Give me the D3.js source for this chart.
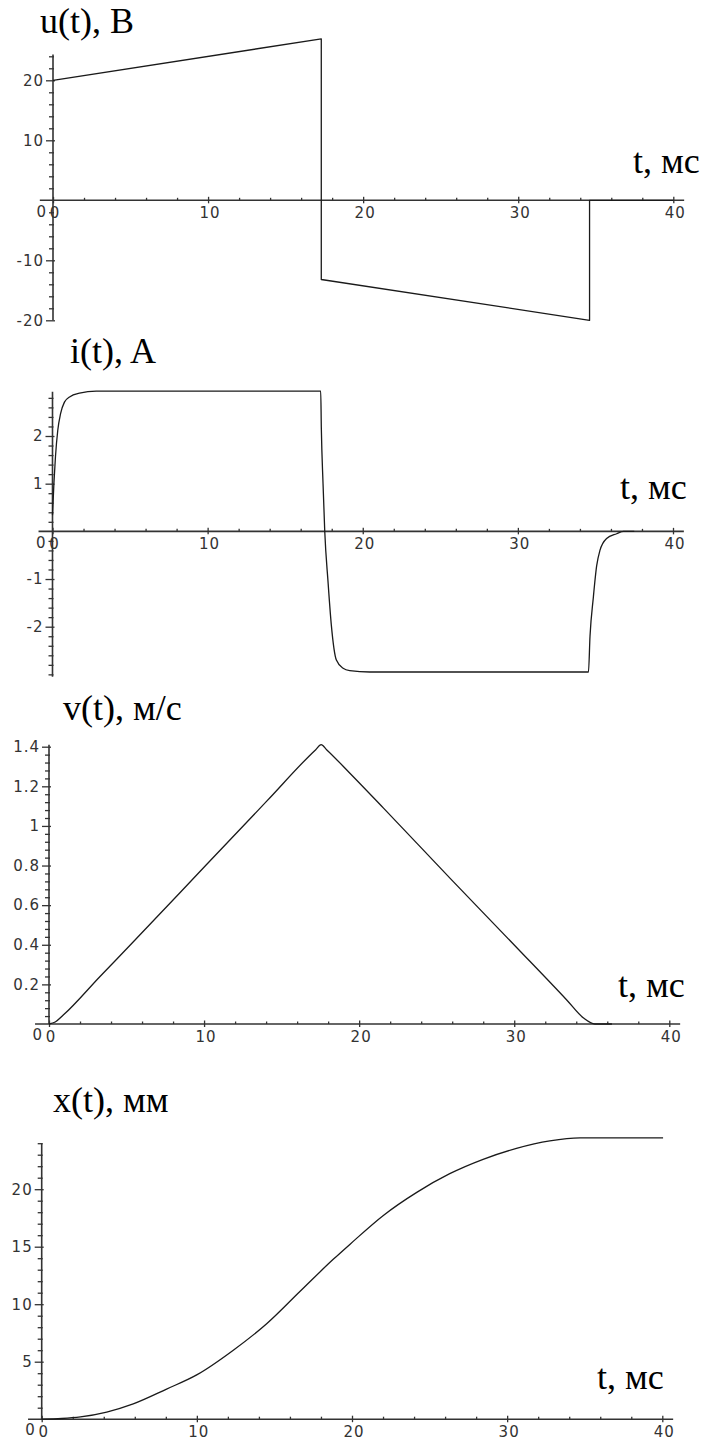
<!DOCTYPE html>
<html>
<head>
<meta charset="utf-8">
<script src="https://cdn.jsdelivr.net/npm/d3@7"></script>
<style>
  html, body { margin: 0; padding: 0; background: #fff; }
  svg { display: block; }
  .tick text { font-family: "DejaVu Sans", sans-serif; font-size: 15px; fill: #333; letter-spacing: 1px; }
  .ttl { font-family: "Liberation Serif", "Times New Roman", serif; font-size: 36px; fill: #000; }
</style>
</head>
<body>
<script>
// ---------- data ----------
const xTickValues = [0, 10, 20, 30, 40];

// u(t), В
const uTime  = [0, 17.3, 17.3, 34.6, 34.6, 40];
const uValue = [20, 26.9, -13.2, -20.0, 0, 0];
const uTicks = [-20, -10, 0, 10, 20];

// i(t), A
const iTime  = [0, 0.09, 0.19, 0.34, 0.52, 0.77, 1.1, 1.74, 2.82, 17.29, 17.33, 17.44, 17.55, 17.76, 17.97, 18.3, 18.73, 19.16, 20.45, 34.55, 34.65, 34.86, 35.08, 35.29, 35.72, 36.37, 36.8, 37.5];
const iValue = [0.34, 1.0, 1.56, 2.12, 2.47, 2.71, 2.82, 2.9, 2.94, 2.94, 2.16, 1.0, 0.0, -1.05, -1.95, -2.7, -2.87, -2.92, -2.95, -2.95, -2.2, -1.4, -0.72, -0.4, -0.15, -0.05, 0, 0];
const iTicks = [-2, -1, 0, 1, 2];

// v(t), м/с
const vTime  = [0, 0.4, 0.92, 3.29, 5.44, 10.1, 14.04, 17.2, 17.55, 17.9, 19.42, 21.57, 25.87, 30.17, 33.4, 34.47, 35.2, 36.3];
const vValue = [0, 0.01, 0.045, 0.24, 0.415, 0.8, 1.125, 1.385, 1.41, 1.385, 1.265, 1.09, 0.735, 0.385, 0.12, 0.03, 0, 0];
const vTicks = [0, 0.2, 0.4, 0.6, 0.8, 1, 1.2, 1.4];

// x(t), мм
const xTime  = [0, 1.29, 2.5, 4.19, 5.9, 8.05, 9.99, 12.35, 14.5, 16.64, 18.79, 19.86, 22.0, 24.2, 26.3, 28.45, 30.6, 32.75, 34.7, 40.05];
const xValue = [0, 0.06, 0.2, 0.62, 1.33, 2.62, 3.85, 6.0, 8.3, 11.1, 13.9, 15.2, 17.7, 19.75, 21.35, 22.6, 23.55, 24.2, 24.46, 24.46];
const xTicks = [0, 5, 10, 15, 20];

const titles = ["u(t), В", "i(t), A", "v(t), м/с", "x(t), мм"];
const tLabel = "t, мс";

// ---------- layout ----------
const W = 704, H = 1440;
const svg = d3.select("body").append("svg").attr("width", W).attr("height", H);

const panels = [
  { t: uTime, v: uValue, ticks: uTicks, minor: 2, ext: [-20, 24.3], curve: d3.curveLinear,
    xr: [53, 673.3], yd: [-20, 20], yr: [320.3, 80.3], xAxisExt: [-0.85, 40.7],
    title: titles[0], titleXY: [40, 33], tXY: [633, 173] },
  { t: iTime, v: iValue, ticks: iTicks, minor: 0.2, ext: [-3.05, 2.93], curve: d3.curveMonotoneX,
    xr: [52.5, 673], yd: [-2, 2], yr: [626.7, 436], xAxisExt: [-0.9, 40.7],
    title: titles[1], titleXY: [70, 363], tXY: [620, 499] },
  { t: vTime, v: vValue, ticks: vTicks, minor: 0.04, ext: [0, 1.41], curve: d3.curveMonotoneX,
    xr: [49, 669.3], yd: [0, 1.4], yr: [1024, 746.7], xAxisExt: [-0.9, 40.7],
    title: titles[2], titleXY: [63, 720], tXY: [618, 997] },
  { t: xTime, v: xValue, ticks: xTicks, minor: 1, ext: [0, 24.0], curve: d3.curveMonotoneX,
    xr: [41.7, 662.3], yd: [0, 20], yr: [1419.2, 1189.2], xAxisExt: [-0.88, 40.7],
    title: titles[3], titleXY: [53, 1112], tXY: [597, 1389] }
];

const axisColor = "#333";

panels.forEach(p => {
  const x = d3.scaleLinear().domain([0, 40]).range(p.xr);
  const y = d3.scaleLinear().domain(p.yd).range(p.yr);
  const g = svg.append("g");
  const y0 = y(0), x0 = x(0);

  // minor x ticks (above axis)
  const xMinor = d3.range(2, 40, 2).filter(d => d % 10 !== 0);
  g.append("g").attr("transform", `translate(0,${y0})`)
    .call(d3.axisTop(x).tickValues(xMinor).tickSize(2.5).tickFormat(""))
    .call(a => a.select(".domain").remove())
    .selectAll("line").attr("stroke", axisColor).attr("stroke-width", 1.3);

  // major x ticks with labels
  const xa = g.append("g").attr("transform", `translate(0,${y0})`)
    .call(d3.axisBottom(x).tickValues(xTickValues).tickSizeInner(3).tickSizeOuter(0).tickPadding(4).tickFormat(d => String(d)));
  xa.select(".domain").remove();
  xa.selectAll("line").attr("stroke", axisColor).attr("stroke-width", 1.3).attr("y1", -3.5);
  xa.selectAll("text").attr("font-family", null).attr("font-size", null).attr("dx", "0.1em");

  // x axis line
  g.append("line")
    .attr("x1", x(p.xAxisExt[0])).attr("x2", x(p.xAxisExt[1]))
    .attr("y1", y0).attr("y2", y0)
    .attr("stroke", axisColor).attr("stroke-width", 1.6);

  // minor y ticks
  const lo = Math.ceil(p.ext[0] / p.minor - 1e-6), hi = Math.floor(p.ext[1] / p.minor + 1e-6);
  const yMinor = d3.range(lo, hi + 1).map(k => +(k * p.minor).toFixed(4))
    .filter(d => !p.ticks.some(t => Math.abs(t - d) < 1e-6));
  g.append("g").attr("transform", `translate(${x0},0)`)
    .call(d3.axisLeft(y).tickValues(yMinor).tickSize(4).tickFormat(""))
    .call(a => a.select(".domain").remove())
    .selectAll("line").attr("stroke", axisColor).attr("stroke-width", 1.3).attr("x1", 1);

  // major y ticks with labels
  const ya = g.append("g").attr("transform", `translate(${x0},0)`)
    .call(d3.axisLeft(y).tickValues(p.ticks).tickSizeInner(7).tickSizeOuter(0).tickPadding(2).tickFormat(d => String(d)));
  ya.select(".domain").remove();
  ya.selectAll("line").attr("stroke", axisColor).attr("stroke-width", 1.3).attr("x1", 2)
    .filter(d => d === 0).remove();
  ya.selectAll("text").attr("font-family", null).attr("font-size", null)
    .filter(d => d === 0).attr("dy", "1.05em").attr("x", -6);

  // y axis line
  g.append("line")
    .attr("x1", x0).attr("x2", x0)
    .attr("y1", y(p.ext[0])).attr("y2", y(p.ext[1]))
    .attr("stroke", axisColor).attr("stroke-width", 1.6);

  // data line
  const pts = p.t.map((t, k) => [t, p.v[k]]);
  g.append("path").datum(pts)
    .attr("fill", "none").attr("stroke", "#1a1a1a").attr("stroke-width", 1.3)
    .attr("stroke-linejoin", "round")
    .attr("d", d3.line().curve(p.curve).x(d => x(d[0])).y(d => y(d[1])));

  // titles
  g.append("text").attr("class", "ttl").attr("x", p.titleXY[0]).attr("y", p.titleXY[1]).text(p.title);
  g.append("text").attr("class", "ttl").attr("x", p.tXY[0]).attr("y", p.tXY[1]).text(tLabel);
});
</script>
</body>
</html>
